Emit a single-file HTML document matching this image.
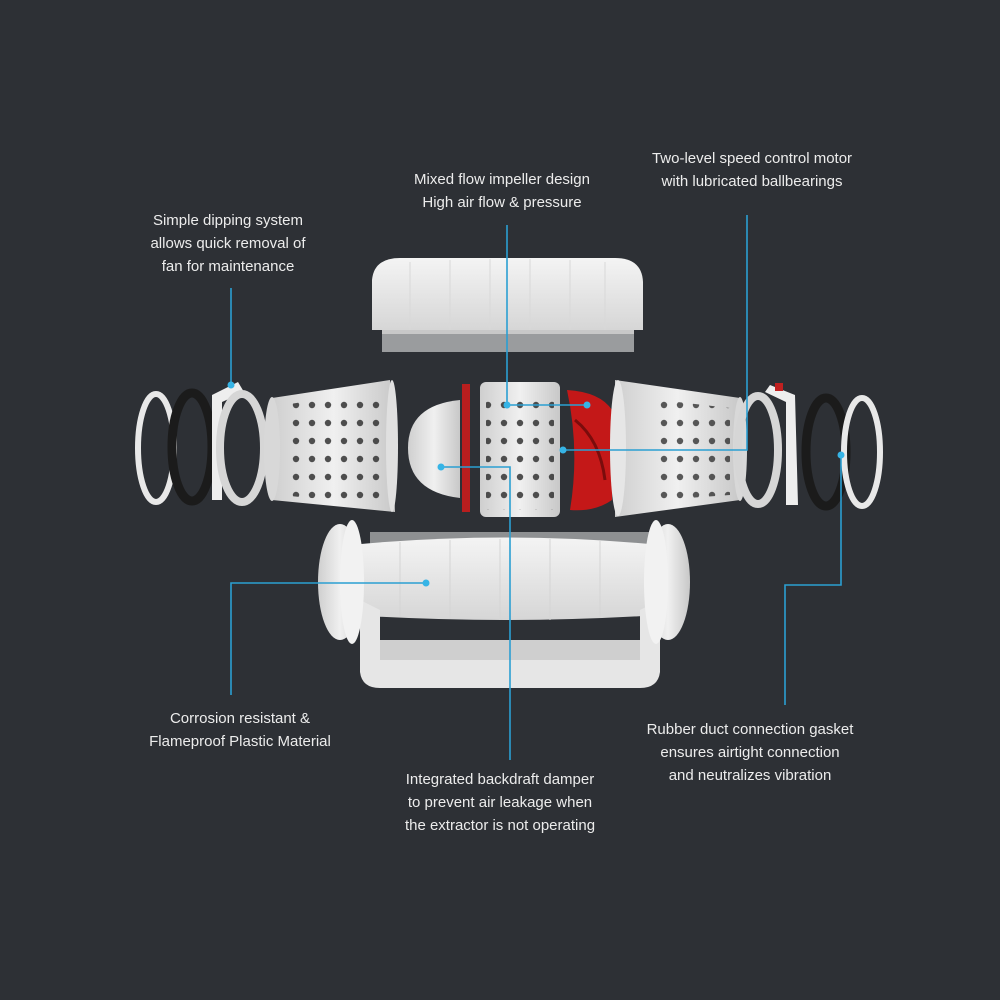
<!DOCTYPE html>
<html><head><meta charset="utf-8"><style>
html,body{margin:0;padding:0;background:#2d3035;}
svg{display:block}
text{font-family:"Liberation Sans",sans-serif;font-size:15px;fill:#ececec;text-anchor:middle}
</style></head><body>
<svg width="1000" height="1000" viewBox="0 0 1000 1000">
<defs>
<linearGradient id="wg" x1="0" y1="0" x2="0" y2="1"><stop offset="0" stop-color="#f4f4f4"/><stop offset="1" stop-color="#d6d6d6"/></linearGradient>
<linearGradient id="cg" x1="0" y1="0" x2="1" y2="0"><stop offset="0" stop-color="#cfcfcf"/><stop offset="0.5" stop-color="#f0f0f0"/><stop offset="1" stop-color="#c8c8c8"/></linearGradient>
<pattern id="holes" width="16" height="18" patternUnits="userSpaceOnUse"><circle cx="8" cy="9" r="3.2" fill="#333"/></pattern>
</defs>
<rect width="1000" height="1000" fill="#2d3035"/>

<!-- top cover -->
<path d="M372 280 Q374 258 400 258 L615 258 Q642 258 643 282 L643 330 L372 330 Z" fill="url(#wg)"/>
<g stroke="#d8d8d8" stroke-width="1"><line x1="410" y1="262" x2="410" y2="330"/><line x1="450" y1="260" x2="450" y2="330"/><line x1="490" y1="259" x2="490" y2="330"/><line x1="530" y1="259" x2="530" y2="330"/><line x1="570" y1="260" x2="570" y2="330"/><line x1="605" y1="262" x2="605" y2="330"/></g>
<rect x="382" y="330" width="252" height="22" fill="#9a9c9e"/>
<rect x="382" y="330" width="252" height="4" fill="#c8c8c8"/>

<!-- left rings -->
<ellipse cx="156" cy="448" rx="18" ry="54" fill="none" stroke="#e8e8e8" stroke-width="6"/>
<ellipse cx="192" cy="447" rx="20" ry="54" fill="none" stroke="#1b1b1b" stroke-width="9"/>
<path d="M212 395 L238 382 L244 392 L222 402 L222 500 L212 500 Z" fill="#eee"/>
<ellipse cx="242" cy="448" rx="22" ry="54" fill="none" stroke="#d6d6d6" stroke-width="8"/>

<!-- left basket -->
<path d="M272 398 L390 380 L395 512 L272 500 Z" fill="url(#cg)"/>
<ellipse cx="272" cy="449" rx="8" ry="52" fill="#d8d8d8"/>
<path d="M290 404 L380 390 L382 505 L290 496 Z" fill="url(#holes)" opacity="0.85"/>
<ellipse cx="392" cy="446" rx="6" ry="66" fill="#e0e0e0"/>

<!-- dome -->
<path d="M460 400 Q408 405 408 448 Q408 492 460 498 Z" fill="url(#cg)"/>
<rect x="462" y="384" width="8" height="128" fill="#b81e1e"/>

<!-- center cylinder -->
<rect x="480" y="382" width="80" height="135" rx="6" fill="url(#cg)"/>
<rect x="486" y="392" width="68" height="118" fill="url(#holes)" opacity="0.85"/>

<!-- impeller -->
<path d="M567 390 Q600 392 612 410 L612 500 Q595 512 570 510 Q580 450 567 390 Z" fill="#c41818"/>
<path d="M575 420 Q600 440 605 480" stroke="#7a0c0c" stroke-width="3" fill="none"/>

<!-- right basket -->
<path d="M615 380 L740 398 L740 500 L615 517 Z" fill="url(#cg)"/>
<ellipse cx="618" cy="448" rx="8" ry="68" fill="#e6e6e6"/>
<path d="M660 400 L730 408 L730 495 L660 500 Z" fill="url(#holes)" opacity="0.8"/>
<ellipse cx="740" cy="449" rx="7" ry="52" fill="#d8d8d8"/>

<!-- right rings -->
<ellipse cx="758" cy="450" rx="20" ry="54" fill="none" stroke="#d6d6d6" stroke-width="8"/>
<path d="M770 385 L795 395 L798 505 L786 505 L786 402 L765 392 Z" fill="#eee"/>
<rect x="775" y="383" width="8" height="8" fill="#c02020"/>
<ellipse cx="826" cy="452" rx="20" ry="54" fill="none" stroke="#1b1b1b" stroke-width="9"/>
<ellipse cx="862" cy="452" rx="18" ry="54" fill="none" stroke="#e8e8e8" stroke-width="6"/>

<!-- bottom housing -->
<rect x="370" y="532" width="290" height="14" fill="#8e9092"/>
<path d="M350 545 Q505 530 660 545 L660 615 Q505 625 350 615 Z" fill="url(#wg)"/>
<g stroke="#d4d4d4"><line x1="400" y1="542" x2="400" y2="617"/><line x1="450" y1="540" x2="450" y2="619"/><line x1="500" y1="539" x2="500" y2="620"/><line x1="550" y1="539" x2="550" y2="620"/><line x1="600" y1="541" x2="600" y2="618"/></g>
<path d="M360 600 L360 672 Q362 688 380 688 L640 688 Q658 688 660 672 L660 600 L640 610 L640 660 L380 660 L380 610 Z" fill="#e6e6e6"/>
<rect x="380" y="640" width="260" height="20" fill="#cfcfcf"/>
<ellipse cx="340" cy="582" rx="22" ry="58" fill="url(#cg)"/>
<ellipse cx="668" cy="582" rx="22" ry="58" fill="url(#cg)"/>
<ellipse cx="352" cy="582" rx="12" ry="62" fill="#f2f2f2"/>
<ellipse cx="656" cy="582" rx="12" ry="62" fill="#f2f2f2"/>

<!-- connectors -->
<g stroke="#2b9fd2" stroke-width="1.6" fill="none">
<polyline points="231,288 231,385"/>
<polyline points="507,225 507,405 587,405"/>
<polyline points="747,215 747,450 563,450"/>
<polyline points="441,467 510,467 510,760"/>
<polyline points="426,583 231,583 231,695"/>
<polyline points="841,455 841,585 785,585 785,705"/>
</g>
<g fill="#36b4e6">
<circle cx="231" cy="385" r="3.5"/><circle cx="507" cy="405" r="3.5"/><circle cx="587" cy="405" r="3.5"/>
<circle cx="563" cy="450" r="3.5"/><circle cx="441" cy="467" r="3.5"/><circle cx="426" cy="583" r="3.5"/><circle cx="841" cy="455" r="3.5"/>
</g>

<!-- labels -->
<text x="228" y="225">Simple dipping system</text>
<text x="228" y="248">allows quick removal of</text>
<text x="228" y="271">fan for maintenance</text>
<text x="502" y="184">Mixed flow impeller design</text>
<text x="502" y="207">High air flow &amp; pressure</text>
<text x="752" y="163">Two-level speed control motor</text>
<text x="752" y="186">with lubricated ballbearings</text>
<text x="240" y="723">Corrosion resistant &amp;</text>
<text x="240" y="746">Flameproof Plastic Material</text>
<text x="500" y="784">Integrated backdraft damper</text>
<text x="500" y="807">to prevent air leakage when</text>
<text x="500" y="830">the extractor is not operating</text>
<text x="750" y="734">Rubber duct connection gasket</text>
<text x="750" y="757">ensures airtight connection</text>
<text x="750" y="780">and neutralizes vibration</text>
</svg>
</body></html>
